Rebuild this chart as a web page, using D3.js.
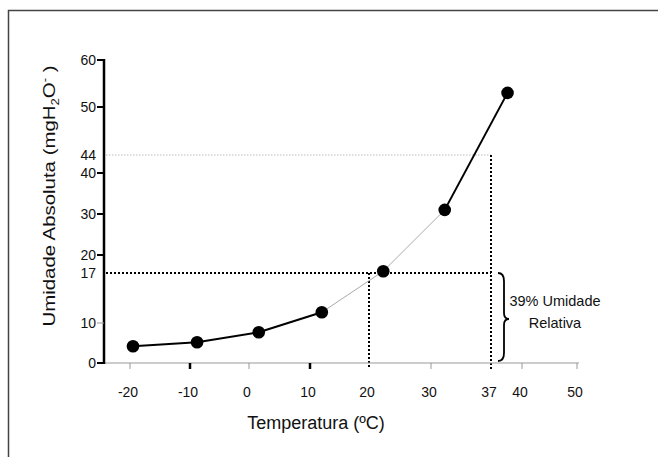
<!DOCTYPE html>
<html>
<head>
<meta charset="utf-8">
<script src="https://cdn.jsdelivr.net/npm/d3@7"></script>
<style>
  body { margin: 0; background: #fff; }
  text { font-family: "Liberation Sans", Arial, sans-serif; fill: #111; }
</style>
</head>
<body>
<div id="chart_wrapper"></div>
<script>
// data
var temps = [-19.5, -8.8, 1.6, 12, 22.3, 31.6, 38.6];
var humidity = [4.2, 5.2, 7.7, 11.5, 17.3, 31, 53];
var xTicks = [-20, -10, 0, 10, 20, 30, 37, 40, 50];
var yTicks = [0, 10, 17, 20, 30, 40, 44, 50, 60];
var refX = [20, 37];     // vertical guides
var refY = [17, 44];     // horizontal guides
var bandLabel = ["39% Umidade", "Relativa"];

var wrapperWidth = 658, wrapperHeight = 457;

var svg = d3.select("#chart_wrapper").append("svg")
    .attr("width", wrapperWidth).attr("height", wrapperHeight);

// the original axes are not evenly spaced, so calibrate against the tick marks
var x = d3.scaleLinear()
    .domain(xTicks)
    .range([130, 190, 249, 310, 369, 431, 491, 522, 577]);
var y = d3.scaleLinear()
    .domain(yTicks)
    .range([363, 323, 273, 255, 214, 173, 155, 107, 60]);

var x0 = 104;

// frame
svg.append("path")
    .attr("d", "M8.5,457 L8.5,10.5 L658,10.5")
    .attr("fill", "none").attr("stroke", "#444").attr("stroke-width", 1.5);

// guides
svg.append("line")
    .attr("x1", x0 + 2).attr("x2", x(37)).attr("y1", y(44)).attr("y2", y(44))
    .attr("stroke", "#bbb").attr("stroke-width", 1).attr("stroke-dasharray", "1.5,1.5");
svg.append("line")
    .attr("x1", x0 + 2).attr("x2", x(37)).attr("y1", y(17)).attr("y2", y(17))
    .attr("stroke", "#000").attr("stroke-width", 2).attr("stroke-dasharray", "2,2");
svg.append("line")
    .attr("x1", x(20)).attr("x2", x(20)).attr("y1", y(17)).attr("y2", y(0) + 6)
    .attr("stroke", "#000").attr("stroke-width", 2).attr("stroke-dasharray", "2,2");
svg.append("line")
    .attr("x1", x(37)).attr("x2", x(37)).attr("y1", y(44)).attr("y2", y(0) + 6)
    .attr("stroke", "#000").attr("stroke-width", 2).attr("stroke-dasharray", "2,2");

// x axis
var thinX = [-20, 0, 30, 40, 50];
svg.append("line")
    .attr("x1", x0 - 6).attr("x2", x(50) + 2).attr("y1", y(0)).attr("y2", y(0))
    .attr("stroke", "#999").attr("stroke-width", 1);
svg.selectAll(".xtick").data(xTicks.filter(function(d) { return refX.indexOf(d) < 0; }))
  .enter().append("line")
    .attr("x1", function(d) { return x(d); }).attr("x2", function(d) { return x(d); })
    .attr("y1", y(0)).attr("y2", y(0) + 6)
    .attr("stroke", function(d) { return thinX.indexOf(d) >= 0 ? "#999" : "#000"; })
    .attr("stroke-width", function(d) { return thinX.indexOf(d) >= 0 ? 1 : 2.5; });
svg.selectAll(".xlab").data(xTicks).enter().append("text")
    .attr("x", function(d) { return x(d) - 2; })
    .attr("y", 397)
    .attr("text-anchor", "middle")
    .style("font-size", "14px")
    .text(function(d) { return d; });

// y axis
var thinY = [10];
svg.append("line")
    .attr("x1", x0).attr("x2", x0).attr("y1", y(60) - 1).attr("y2", y(0) + 1)
    .attr("stroke", "#000").attr("stroke-width", 2.5);
svg.selectAll(".ytick").data(yTicks.filter(function(d) { return refY.indexOf(d) < 0; }))
  .enter().append("line")
    .attr("x1", x0 - 7).attr("x2", x0)
    .attr("y1", function(d) { return y(d); }).attr("y2", function(d) { return y(d); })
    .attr("stroke", function(d) { return thinY.indexOf(d) >= 0 ? "#999" : "#000"; })
    .attr("stroke-width", function(d) { return thinY.indexOf(d) >= 0 ? 1 : 2; });
svg.selectAll(".ylab").data(yTicks).enter().append("text")
    .attr("x", 96)
    .attr("y", function(d) { return y(d); })
    .attr("dy", "0.36em")
    .attr("text-anchor", "end")
    .style("font-size", "14px")
    .text(function(d) { return d; });

// axis titles
svg.append("text")
    .attr("x", 316).attr("y", 429)
    .attr("text-anchor", "middle")
    .style("font-size", "18px")
    .text("Temperatura (ºC)");

var yt = svg.append("text")
    .attr("transform", "translate(55,196) rotate(-90) scale(1.2,1)")
    .attr("text-anchor", "middle")
    .style("font-size", "17px");
yt.append("tspan").text("Umidade Absoluta (mgH");
yt.append("tspan").attr("dy", 4).style("font-size", "11px").text("2");
yt.append("tspan").attr("dy", -4).text("O");
yt.append("tspan").attr("dy", -7).style("font-size", "11px").text("-");
yt.append("tspan").attr("dy", 7).text(" )");

// curve, drawn segment by segment
var pts = temps.map(function(t, i) { return [x(t), y(humidity[i])]; });
var thinSeg = [3, 4];
var line = d3.line();
for (var i = 0; i < pts.length - 1; i++) {
  var thin = thinSeg.indexOf(i) >= 0;
  svg.append("path")
      .attr("d", line([pts[i], pts[i + 1]]))
      .attr("fill", "none")
      .attr("stroke", thin ? "#aaa" : "#000")
      .attr("stroke-width", thin ? 1 : 2);
}
svg.selectAll(".pt").data(pts).enter().append("circle")
    .attr("cx", function(d) { return d[0]; })
    .attr("cy", function(d) { return d[1]; })
    .attr("r", 6.3)
    .attr("fill", "#000");

// brace for the relative humidity band
var bx = x(37) + 10, bt = y(17), bb = y(0) - 2, bm = (bt + bb) / 2 + 2;
var p = d3.path();
p.moveTo(bx - 3, bt);
p.quadraticCurveTo(bx + 3, bt, bx + 3, bt + 8);
p.lineTo(bx + 3, bm - 6);
p.quadraticCurveTo(bx + 3, bm, bx + 8, bm);
p.quadraticCurveTo(bx + 3, bm, bx + 3, bm + 6);
p.lineTo(bx + 3, bb - 8);
p.quadraticCurveTo(bx + 3, bb, bx - 3, bb);
svg.append("path").attr("d", p.toString())
    .attr("fill", "none").attr("stroke", "#000").attr("stroke-width", 1.8);

svg.selectAll(".band").data(bandLabel).enter().append("text")
    .attr("x", 555)
    .attr("y", function(d, i) { return 306 + i * 22; })
    .attr("text-anchor", "middle")
    .style("font-size", "14.5px")
    .text(function(d) { return d; });
</script>
</body>
</html>
